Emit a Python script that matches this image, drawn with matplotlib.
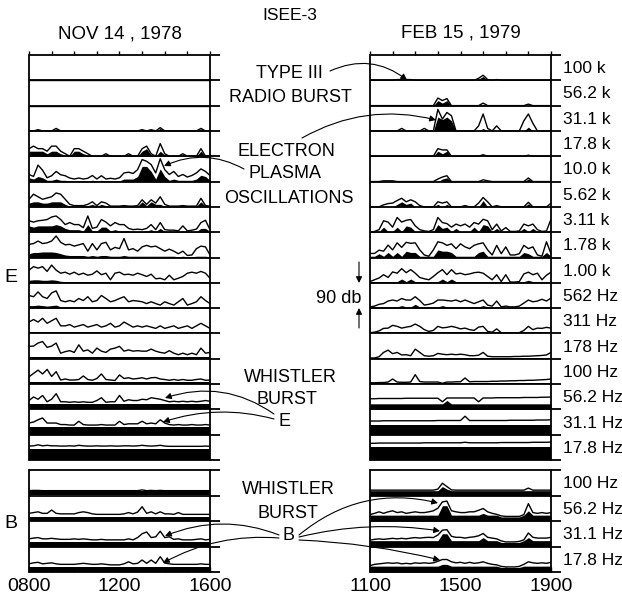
import numpy as np
import matplotlib.pyplot as plt
from matplotlib.patches import FancyArrowPatch

plt.rcParams['font.family'] = ['Liberation Sans', 'DejaVu Sans']

W, H = 622, 606

# channel labels (E antenna and B search coil)
e_labels = ['100 k', '56.2 k', '31.1 k', '17.8 k', '10.0 k', '5.62 k', '3.11 k', '1.78 k',
            '1.00 k', '562 Hz', '311 Hz', '178 Hz', '100 Hz', '56.2 Hz', '31.1 Hz', '17.8 Hz']
b_labels = ['100 Hz', '56.2 Hz', '31.1 Hz', '17.8 Hz']

# samples every 12 minutes (UT hours)
t_nov = np.linspace(8, 16, 41)
t_feb = np.linspace(11, 19, 41)

# intensities in tenths of a channel height (1 channel = 90 db)
# --- NOV 14, 1978: peak line per E channel
nov_e_peak = [
    [0] * 41,
    [0] * 41,
    [0, 0, 0.5, 0, 0, 0, 1, 0, 0, 0, 0, 0, 0, 0, 0, 0, 0, 0, 0, 0, 0, 0, 0, 0, 0, 0.5, 0, 0.5, 0, 1.3,
     0, 0, 0, 0, 0, 0, 0, 0, 1, 0, 0],
    [3, 4, 3, 3, 2, 4, 4, 2, 1, 0, 3, 3, 2, 1, 0, 0, 0, 1, 0, 0, 0, 0, 1, 0, 0, 3, 4, 1, 0, 5,
     1, 0, 0, 0, 1, 0, 0, 0, 3, 0, 0],
    [2.8, 2, 6.5, 4.5, 1.5, 2.3, 4, 2.7, 2.3, 1.4, 1, 1.4, 1, 1.3, 2.4, 1, 2.3, 1, 1.3, 1,
     1.5, 3.4, 3.7, 3.2, 4.7, 8.7, 8, 6.7, 3.4, 9, 4.7, 2.8, 4, 2, 2.8, 1.8, 2.4, 3.4, 5, 4, 2.4],
    [3, 5, 4, 3, 3.5, 4, 5.5, 5, 3, 1, 0.5, 0.5, 0.5, 1, 2, 0.5, 2, 1.5, 0.3, 0.3,
     0.3, 0.5, 0.3, 0.3, 0.5, 2.8, 1, 2.8, 1.5, 4, 1, 0.3, 0.3, 0.3, 0.5, 0.3, 0.3, 0.3, 3.4, 0.5, 0.3],
    [4.5, 4, 4.5, 4.7, 5, 6, 6.4, 5, 3, 3.8, 3, 3, 1.8, 6.4, 1.5, 2, 5, 4, 2.5, 3.8,
     3, 3, 1.5, 1, 1.2, 1, 1.5, 3, 1, 3.8, 1, 0.8, 0.8, 0.5, 2.5, 0.5, 0.8, 1.2, 3.8, 4.7, 1],
    [5.2, 5.5, 6.5, 5.5, 5.8, 6.5, 8.5, 6, 5, 5.2, 4.5, 5, 5.5, 2.5, 5.5, 3, 5.5, 6, 3, 4,
     3.5, 7.5, 3, 3.5, 2.5, 4.2, 4.8, 4.2, 4.5, 3.5, 2.5, 3.3, 2.5, 1.5, 2.5, 0.8, 1, 3.5, 4.5, 4.2, 1],
    [5, 6.4, 5.8, 6.4, 4.5, 7, 5, 3.8, 4.2, 3.4, 4.2, 3.2, 3.8, 3, 3.4, 4.7, 3.2, 3.8, 1.2, 3.8,
     4.2, 3.2, 3.4, 3, 3.8, 3.2, 2.5, 3.4, 1.6, 1.8, 1.2, 3, 1.2, 1.8, 2.5, 3.8, 4.2, 3.8, 4.5, 3.8, 1.8],
    [5, 4.5, 6.4, 4.5, 3.8, 6, 6.8, 3, 2.5, 3, 2.5, 3.8, 3, 4.5, 2.5, 3, 5, 3.8, 2.5, 3,
     3.8, 4.5, 2.5, 3, 2.8, 2.5, 1.8, 2.5, 1.8, 1.2, 2.5, 1.8, 1.2, 2.5, 3.8, 1.2, 1.8, 2.5, 4.5, 3, 1.8],
    [4.5, 5.5, 4.5, 6, 4, 5, 6, 3, 3, 3.5, 2.5, 3, 3.5, 2.5, 3, 3.5, 2.5, 3, 4, 2.5,
     3, 4.5, 3.5, 2.5, 3, 2.5, 3, 2.5, 2, 3, 2, 2.5, 3, 2, 2.5, 3, 2, 3, 4, 3, 2],
    [4.9, 5, 6.2, 6.8, 4.5, 5, 6.2, 2.2, 2.8, 3.2, 2.5, 5.5, 3, 3.5, 2.2, 4.2, 3, 2.5, 3.8, 4.2,
     4.9, 3, 3.5, 3, 3.2, 3, 3, 3.8, 3, 2.5, 2.2, 3.2, 2.2, 1.6, 2.2, 1.6, 2.2, 1.6, 4.2, 2.2, 2.5],
    [2.9, 4.2, 5.5, 4, 5.8, 3, 4.9, 1.6, 2, 1.6, 1.6, 1.8, 3.2, 1.8, 1.5, 2.2, 4, 1.8, 1.6, 1.4,
     3.6, 2.2, 2.5, 2, 2.2, 2.5, 2, 2.5, 2.6, 2, 1.8, 1.5, 1.8, 1.5, 1.8, 1.5, 1.5, 1.8, 2, 1.5, 1.6],
    [3.5, 4.9, 4, 5.5, 3, 4, 6.2, 3, 3, 2.8, 3, 2.8, 3, 2.8, 2.8, 3.5, 4.6, 2.8, 3, 3,
     5.5, 3.2, 3.8, 3.5, 3.5, 4, 3.8, 4.6, 4.3, 4, 3.5, 3, 3.2, 3, 3.2, 3, 3.2, 3, 3.2, 3.5, 3.2],
    [4.6, 5, 5.9, 6.6, 4.6, 4.6, 4.6, 4, 4, 3.8, 3.8, 5.3, 4, 3.8, 3.8, 3.8, 4, 3.8, 3.8, 3.8,
     5.3, 4, 4.3, 4.3, 4.3, 5.3, 4.3, 4.6, 4.3, 5.9, 4.6, 4, 3.8, 4, 3.8, 3.8, 4, 3.8, 3.8, 4, 3.8],
    [5.5, 5.6, 6, 5.6, 5.8, 5.6, 5.6, 5.5, 5.5, 5.6, 5.5, 5.8, 5.6, 5.5, 5.5, 5.6, 5.5, 5.5, 5.6, 5.5,
     5.5, 5.6, 5.6, 5.5, 5.6, 5.8, 5.6, 5.5, 5.6, 5.8, 5.5, 5.4, 5.4, 5.4, 5.4, 5.4, 5.4, 5.4, 5.4, 5.5, 5.4],
]

# --- NOV 14, 1978: average (black) per E channel
nov_e_avg = [
    [0] * 41,
    [0] * 41,
    [0, 0, 0.5, 0, 0, 0, 0.8, 0, 0, 0, 0, 0, 0, 0, 0, 0, 0, 0, 0, 0, 0, 0, 0, 0, 0, 0.4, 0, 0.4, 0, 1,
     0, 0, 0, 0, 0, 0, 0, 0, 0.8, 0, 0],
    [2, 2, 2, 2, 1, 2, 2, 1, 0.5, 0, 2, 2, 1, 0.5, 0, 0, 0, 0.5, 0, 0, 0, 0, 0.5, 0, 0, 2, 3, 0.5, 0, 2,
     0.5, 0, 0, 0, 0.5, 0, 0, 0, 2, 0, 0],
    [1.5, 1, 2, 1.5, 0.5, 0.5, 1, 0.5, 0.5, 0.3, 0.3, 0.3, 0.3, 0.3, 0.5, 0.3, 0.5, 0.3, 0.3, 0.3,
     0.3, 1, 1, 1, 2, 6, 6, 4, 1, 5, 2, 0.5, 1, 0.5, 0.5, 0.5, 0.5, 1, 2.5, 2, 0.5],
    [1.5, 2, 2, 1.5, 1.5, 2, 2, 2, 1, 0.3, 0.3, 0.3, 0.3, 0.5, 1, 0.3, 1, 0.5, 0.3, 0.3,
     0.3, 0.3, 0.3, 0.3, 0.3, 2, 0.5, 2, 1, 1, 0.3, 0.3, 0.3, 0.3, 0.3, 0.3, 0.3, 0.3, 2, 0.3, 0.3],
    [2.5, 2, 2.5, 2.5, 2.5, 2.5, 3, 2.5, 1.5, 1, 1, 1, 0.5, 3, 0.5, 0.5, 2, 2, 0.5, 1,
     0.5, 0.5, 0.5, 0.3, 0.3, 0.3, 0.5, 1, 0.3, 1.5, 0.3, 0.3, 0.3, 0.3, 0.5, 0.3, 0.3, 0.3, 1.5, 1.5, 0.3],
    [1.5, 2, 2, 2.2, 2.2, 2.2, 2, 1.5, 1, 0.8, 0.8, 0.8, 0.8, 0.5, 0.8, 0.5, 0.8, 0.8, 0.5, 0.5,
     0.5, 0.8, 0.5, 0.5, 0.5, 0.5, 0.5, 0.5, 0.5, 0.5, 0.5, 0.5, 0.5, 0.3, 0.5, 0.3, 0.3, 0.5, 0.5, 0.5, 0.3],
    [1, 1.2, 1.2, 1, 1, 1.2, 1, 0.6, 0.5, 0.5, 0.5, 0.5, 0.5, 0.5, 0.5, 0.5, 0.5, 0.5, 0.5, 0.5,
     0.5, 0.5, 0.5, 0.5, 0.5, 0.5, 0.4, 0.5, 0.4, 0.4, 0.4, 0.4, 0.4, 0.4, 0.4, 0.5, 0.5, 0.5, 0.5, 0.5, 0.4],
    [1, 1, 1.2, 1, 0.8, 1, 1.2, 0.5, 0.5, 0.5, 0.5, 0.5, 0.5, 0.5, 0.5, 0.5, 0.5, 0.5, 0.5, 0.5,
     0.5, 0.5, 0.5, 0.5, 0.5, 0.5, 0.4, 0.4, 0.4, 0.4, 0.4, 0.4, 0.4, 0.4, 0.4, 0.4, 0.4, 0.4, 0.5, 0.4, 0.4],
    [0.5] * 41,
    [0.5] * 41,
    [1.0] * 41,
    [2.0] * 41,
    [3.0] * 41,
    [4.2] * 41,
]

nov_b_peak = [
    [1.9, 2, 2, 1.9, 1.9, 1.9, 1.9, 1.9, 1.9, 1.9, 1.9, 1.9, 1.9, 1.9, 1.9, 1.9, 1.9, 1.9, 1.9, 1.9,
     1.9, 1.9, 1.9, 1.9, 1.9, 2.2, 1.9, 2, 1.9, 2, 1.9, 1.9, 1.9, 1.9, 1.9, 1.9, 1.9, 1.9, 1.9, 1.9, 1.9],
    [3, 3.3, 3.6, 3, 3, 4.3, 3, 2.8, 2.8, 2.8, 2.8, 3.3, 3.6, 3.3, 2.8, 2.6, 2.6, 2.6, 2.6, 2.6,
     2.6, 2.8, 3.3, 2.8, 3.5, 5.6, 3, 3.6, 2.8, 3.6, 2.8, 2.8, 2.6, 3.3, 2.6, 2.6, 2.6, 2.6, 2.6, 2.6, 2.6],
    [3, 3.3, 3.5, 3, 3, 3.2, 3, 2.8, 2.8, 2.8, 3, 2.8, 3, 2.8, 2.6, 2.6, 2.8, 2.6, 2.6, 2.6,
     2.6, 2.6, 3, 2.6, 3.5, 5, 5.7, 3.5, 3.8, 6, 3.5, 3.8, 2.8, 3, 2.6, 2.6, 2.6, 2.8, 3, 2.6, 2.8],
    [3.2, 3.6, 3.8, 3.2, 3.4, 3.6, 3.2, 3, 3, 3, 3, 3.2, 3.4, 3.2, 3, 3, 3.2, 3, 2.8, 2.8,
     2.8, 3.2, 4, 3.2, 3.4, 4.7, 3.4, 4.7, 3.4, 6, 3.5, 3.2, 3, 3, 3, 3, 3, 3, 3.2, 3, 3],
]
nov_b_avg = [[1.6] * 41, [1.7] * 41, [1.8] * 41, [2.0] * 41]

# --- FEB 15, 1979
feb_e_peak = [
    [0, 0, 0, 0, 0, 0, 0.3, 0.3, 0.3, 0.3, 0, 0, 0, 0, 0, 0, 0, 0, 0, 0,
     0, 0, 0, 0, 0.8, 2, 0.3, 0, 0.3, 0, 0, 0, 0, 0, 0, 0, 0, 0, 0, 0, 0],
    [0, 0, 0, 0, 0, 0, 0, 0, 0, 0, 0, 0, 0, 0, 0, 3, 2, 2.8, 0, 0,
     0, 0, 0, 0, 0, 1, 0, 0, 0, 0, 0, 0, 0, 0, 0, 0.6, 0, 0, 0, 0, 0],
    [0, 0, 0, 0, 0, 0, 0, 1, 0, 0, 0, 0, 1, 0, 0, 8.5, 4.7, 7.3, 6, 0,
     0, 0, 0, 0, 2, 6.7, 1, 0, 2, 0, 0, 0, 0, 0, 4, 6.7, 3, 0, 0, 0, 0],
    [0, 0, 0, 0, 0, 0, 0, 0, 0, 0, 0, 0, 0, 0, 0, 3, 2.5, 2.5, 0, 0,
     0, 0, 0, 0, 0, 0.6, 0, 0, 0, 0, 0, 0, 0, 0, 0, 0.4, 0, 0, 0, 0, 0],
    [0, 0, 0, 0.3, 0.3, 0.3, 0, 0, 0, 0, 0, 0, 0, 0, 0, 1, 1.8, 2.3, 0, 0,
     0, 0, 0, 0, 0, 0.7, 0.3, 0, 0, 0, 0, 0, 0, 0, 0, 1.4, 0, 0, 0, 0, 0],
    [0, 0, 0, 0.8, 1.3, 1.5, 2.5, 3.4, 2, 2.8, 2, 0.5, 0, 0, 0, 2, 1.5, 2, 0, 0,
     0, 0.5, 0, 0, 1.5, 3.7, 2, 0, 0.5, 0, 0, 0, 0, 0, 0, 1.8, 0, 0, 0, 0, 1.4],
    [0, 0.3, 1, 4.5, 4, 2, 5.8, 4, 4.7, 5, 2.5, 1, 0.5, 0.3, 1, 5.8, 3.8, 3.4, 2, 3.2,
     2.5, 3.2, 2, 3.8, 3.2, 5.1, 4.5, 1, 3.2, 0.5, 1.8, 0.3, 0.3, 0.5, 3.2, 2.5, 3.2, 1, 0.3, 0.5, 5.1],
    [1.6, 1.6, 2.9, 2.5, 4.9, 3, 5.8, 4, 6, 5.6, 5.8, 3, 1, 0.5, 3, 6.2, 5.8, 4.8, 5.4, 3.5,
     5.4, 4.2, 3.5, 4.8, 5.4, 5.8, 3, 1, 4.8, 1.5, 4.2, 1, 1, 1.5, 4.8, 3.5, 4.2, 1, 0.5, 6.2, 1.5],
    [0.5, 1.2, 1.9, 3.2, 2.1, 4.3, 3.8, 5.6, 4, 5.2, 3.8, 2.1, 1.6, 1.2, 2.5, 4, 5.2, 3.2, 5.2, 3.5,
     3.8, 3.2, 3.5, 4, 4.2, 3.8, 2.5, 1.2, 3.2, 0.5, 3.2, 0.3, 0.3, 0.5, 3.5, 4.2, 3.2, 3.8, 1.2, 3, 4.2],
    [0.5, 0.8, 1.5, 1.8, 2.8, 3.2, 2.8, 3.8, 3.2, 3.2, 4.5, 3, 1.2, 1.5, 2, 3.2, 3.2, 3, 2.8, 3.2,
     2.5, 3.2, 2.5, 1.8, 2.5, 3.2, 1.2, 0.8, 2.8, 0.5, 0.8, 0.5, 0.5, 0.8, 2, 3.2, 2.5, 2.8, 3.5, 2.8, 4],
    [0.3, 0.5, 1, 2, 2.1, 3.2, 2.8, 2.1, 2.5, 2.8, 3.7, 2.8, 1.5, 0.8, 1.2, 2.8, 2.2, 2.4, 2.8, 2.4,
     1.8, 2.1, 1.5, 1.2, 2.5, 2.8, 0.8, 0.5, 1.8, 0.3, 0.3, 0.3, 0.3, 0.3, 1.2, 2.8, 1.5, 2.1, 2, 2.4, 2.1],
    [0.3, 0.3, 0.8, 2.5, 3.4, 2, 2.5, 1.5, 1.6, 1.2, 3.8, 2.5, 1.2, 1, 1.2, 2.1, 1.8, 1.6, 1.8, 1.6,
     1.8, 1.6, 1.2, 1.2, 1.4, 2.5, 1, 0.8, 0.8, 0.8, 0.8, 0.8, 0.9, 0.9, 1, 1, 1.1, 1.2, 1.3, 1.5, 2.5],
    [0.5, 0.5, 0.6, 0.6, 0.8, 2, 0.8, 0.7, 0.7, 0.8, 3.7, 1, 0.8, 0.8, 0.8, 0.8, 0.3, 0.8, 0.8, 0.9,
     0.9, 2.4, 0.9, 1, 1, 1, 1, 1.1, 1.1, 1.2, 1.2, 1.3, 1.3, 1.4, 1.4, 1.5, 1.5, 1.6, 1.7, 1.8, 2],
    [4.2, 4.2, 4.3, 4.3, 4.3, 4.3, 4.3, 4.3, 4.4, 4.4, 4.4, 4.4, 4.4, 4.4, 4.4, 4.4, 3, 4.5, 4.5, 4.5,
     4.5, 4.5, 4.5, 4.5, 3, 4.5, 4.5, 4.5, 4.6, 4.6, 4.6, 4.6, 4.6, 4.6, 4.7, 4.7, 4.7, 4.7, 4.8, 4.8, 4.9],
    [5.4, 5.4, 5.4, 5.5, 5.5, 5.5, 5.5, 5.5, 5.5, 5.5, 5.5, 5.5, 5.5, 5.5, 5.5, 5.6, 5.6, 5.6, 5.6, 5.6,
     5.6, 7.3, 5.6, 5.6, 5.6, 5.6, 5.6, 5.6, 5.6, 5.6, 5.6, 5.7, 5.7, 5.7, 5.7, 5.7, 5.7, 5.8, 5.8, 5.8, 5.9],
    [6.6, 6.6, 6.7, 6.7, 6.7, 6.7, 6.7, 6.7, 6.7, 6.7, 6.7, 6.7, 6.8, 6.8, 6.8, 6.8, 6.8, 6.8, 6.8, 6.8,
     6.8, 7, 6.8, 6.8, 6.8, 6.8, 6.8, 6.8, 6.8, 6.9, 6.9, 6.9, 6.9, 6.9, 6.9, 6.9, 7, 7, 7, 7, 7.1],
]

feb_e_avg = [
    [0, 0, 0, 0, 0, 0, 0.2, 0.2, 0.2, 0.2, 0, 0, 0, 0, 0, 0, 0, 0, 0, 0,
     0, 0, 0, 0, 0.5, 1.5, 0, 0, 0, 0, 0, 0, 0, 0, 0, 0, 0, 0, 0, 0, 0],
    [0, 0, 0, 0, 0, 0, 0, 0, 0, 0, 0, 0, 0, 0, 0, 2, 1, 2, 0, 0,
     0, 0, 0, 0, 0, 0.5, 0, 0, 0, 0, 0, 0, 0, 0, 0, 0, 0, 0, 0, 0, 0],
    [0, 0, 0, 0, 0, 0, 0, 0.5, 0, 0, 0, 0, 0.5, 0, 0, 5.5, 4.5, 5.5, 4, 0,
     0, 0, 0, 0, 0, 1, 0, 0, 0, 0, 0, 0, 0, 0, 0, 1.5, 0, 0, 0, 0, 0],
    [0, 0, 0, 0, 0, 0, 0, 0, 0, 0, 0, 0, 0, 0, 0, 2, 1, 2, 0, 0,
     0, 0, 0, 0, 0, 0, 0, 0, 0, 0, 0, 0, 0, 0, 0, 0, 0, 0, 0, 0, 0],
    [0, 0, 0, 0, 0, 0, 0, 0, 0, 0, 0, 0, 0, 0, 0, 0, 1, 1.5, 0, 0,
     0, 0, 0, 0, 0, 0, 0, 0, 0, 0, 0, 0, 0, 0, 0, 1, 0, 0, 0, 0, 0],
    [0, 0, 0, 0, 0, 0, 1, 2, 1, 1.5, 0, 0, 0, 0, 0, 1, 0, 1, 0, 0,
     0, 0, 0, 0, 0, 2.5, 0, 0, 0, 0, 0, 0, 0, 0, 0, 1.2, 0, 0, 0, 0, 0],
    [0.3, 0.3, 0.3, 2, 0.3, 0.3, 2, 0.3, 2.5, 2, 0.3, 0.3, 0.3, 0.3, 0.3, 3, 1.5, 2, 0.3, 1.5,
     0.3, 0.3, 0.3, 2, 0.3, 3, 2.5, 0.3, 1.5, 0.3, 0.3, 0.3, 0.3, 0.3, 1.5, 0.3, 1.5, 0.3, 0.3, 0.3, 1],
    [0.5, 0.5, 1.5, 0.5, 2, 0.5, 2, 0.5, 2.5, 2, 2, 0.5, 0.5, 0.5, 0.5, 3, 2.5, 2.5, 2, 0.5,
     0.5, 0.5, 0.5, 0.5, 2, 2.5, 0.5, 0.5, 0.5, 0.5, 0.5, 0.5, 0.5, 0.5, 2, 1.5, 0.5, 0.5, 0.5, 2, 0.5],
    [0.5, 0.5, 0.5, 0.5, 0.5, 0.5, 0.5, 1.5, 0.5, 1.5, 0.5, 0.5, 0.5, 0.5, 0.5, 0.5, 1.5, 0.5, 1.5, 0.5,
     0.5, 0.5, 0.5, 0.5, 0.5, 0.5, 0.5, 0.5, 0.5, 0.3, 0.5, 0.3, 0.3, 0.3, 0.5, 1, 0.5, 0.5, 0.5, 0.5, 0.5],
    [0.5, 0.5, 0.5, 0.5, 0.5, 0.5, 0.5, 1, 0.5, 0.5, 1.5, 0.5, 0.5, 0.5, 0.5, 0.5, 1, 0.5, 0.5, 0.5,
     0.5, 0.5, 0.5, 0.5, 0.5, 1, 0.5, 0.5, 0.5, 0.3, 0.3, 0.3, 0.3, 0.3, 0.5, 0.5, 0.5, 0.5, 0.5, 0.5, 0.5],
    [0.4] * 41,
    [0.4] * 41,
    [0.4] * 41,
    [2.2, 2.2, 2.2, 2.2, 2.2, 2.2, 2.2, 2.2, 2.2, 2.2, 2.2, 2.2, 2.2, 2.2, 2.2, 2.2, 2.2, 3.5, 2.2, 2.2,
     2.2, 2.2, 2.2, 2.2, 2.2, 2.2, 2.2, 2.2, 2.2, 2.2, 2.2, 2.2, 2.2, 2.2, 2.2, 2.2, 2.2, 2.2, 2.2, 2.2, 2.2],
    [3.8] * 41,
    [5.0] * 41,
]

feb_b_peak = [
    [2.1, 2.1, 2.1, 2.1, 2.1, 2.1, 2.1, 2.1, 2.1, 2.1, 2.1, 2.1, 2.1, 2.1, 2.1, 2.5, 4.8, 3.5, 2.2, 2.1,
     2.1, 2.1, 2.1, 2.1, 2.1, 2.1, 2.1, 2.1, 2.1, 2.1, 2.1, 2.1, 2.1, 2.1, 2.1, 2.9, 2.1, 2.1, 2.1, 2.1, 2.1],
    [2.5, 3, 3.6, 3, 3.6, 4, 3.3, 3.6, 3, 3.3, 3.6, 3.3, 3.3, 3.6, 4, 5, 7.5, 7.8, 4, 3.6,
     3.3, 3.3, 3.6, 3.6, 4.2, 4.9, 3.6, 3, 2.6, 2, 1.8, 1.8, 1.8, 1.8, 2.5, 6.8, 3.3, 3, 3.3, 3, 3.3],
    [2.5, 2.8, 3, 2.8, 3, 3.2, 3, 3.2, 3, 3.3, 3.5, 3.3, 3.5, 3.6, 3.5, 4.5, 6.4, 6.6, 4, 3.6,
     3.6, 3.3, 3.6, 3.8, 4.2, 5.1, 3.6, 3.3, 3, 2.2, 1.8, 1.8, 1.8, 2, 2.6, 5.3, 3.6, 3.3, 3.3, 3.3, 3.6],
    [2.5, 3, 3.2, 3.4, 3.6, 3.4, 3.6, 3.2, 3.4, 3.2, 3.6, 3.4, 3.6, 3.4, 3.6, 4.2, 4.9, 4.9, 4, 3.6,
     3.8, 3.4, 3.8, 3.4, 3.6, 4, 3.4, 3, 2.8, 2.2, 2, 2, 2, 2.2, 3, 4, 3.6, 3.4, 3.6, 3.4, 3.8],
]
feb_b_avg = [
    [1.9, 1.9, 1.9, 1.9, 1.9, 1.9, 1.9, 1.9, 1.9, 1.9, 1.9, 1.9, 1.9, 1.9, 1.9, 1.9, 3.5, 2.5, 1.9, 1.9,
     1.9, 1.9, 1.9, 1.9, 1.9, 1.9, 1.9, 1.9, 1.9, 1.9, 1.9, 1.9, 1.9, 1.9, 1.9, 1.9, 1.9, 1.9, 1.9, 1.9, 1.9],
    [2.3, 2.3, 2.3, 2.3, 2.3, 2.3, 2.3, 2.3, 2.3, 2.3, 2.3, 2.3, 2.3, 2.3, 2.3, 2.3, 6, 6, 2.3, 2.3,
     2.3, 2.3, 2.3, 2.3, 2.3, 3, 2.3, 2.3, 2.3, 1.6, 1.6, 1.6, 1.6, 1.6, 2.3, 4, 2.3, 2.3, 2.3, 2.3, 2.3],
    [2.3, 2.3, 2.3, 2.3, 2.3, 2.3, 2.3, 2.3, 2.3, 2.3, 2.3, 2.3, 2.3, 2.3, 2.3, 2.3, 5, 5, 2.3, 2.3,
     2.3, 2.3, 2.3, 2.3, 2.3, 3.5, 2.3, 2.3, 2.3, 1.6, 1.6, 1.6, 1.6, 1.6, 2.3, 3.5, 2.3, 2.3, 2.3, 2.3, 2.3],
    [2.3, 2.3, 2.3, 2.3, 2.3, 2.3, 2.3, 2.3, 2.3, 2.3, 2.3, 2.3, 2.3, 2.3, 2.3, 2.3, 3, 3, 2.3, 2.3,
     2.3, 2.3, 2.3, 2.3, 2.3, 2.3, 2.3, 2.3, 2.3, 1.8, 1.8, 1.8, 1.8, 1.8, 2.3, 2.3, 2.3, 2.3, 2.3, 2.3, 2.3],
]

fig = plt.figure(figsize=(W / 100, H / 100), dpi=100)


def box(x0, y0, x1, y1):
    # pixel box (top-left origin) -> figure fraction rect
    return [x0 / W, 1 - y1 / H, (x1 - x0) / W, (y1 - y0) / H]


def draw_block(ax, t, peaks, avgs, is_b, ticklabels=None):
    n = len(peaks)
    t0, t1 = t[0], t[-1]
    ext = (t1 - t0) * 10 / 181
    for i in range(n):
        base = -(i + 1)
        ax.fill_between(t, base, base + np.array(avgs[i]) / 10, color='k', lw=0)
        ax.plot(t, base + np.array(peaks[i]) / 10, color='k', lw=1.0)
    for i in range(n + 1):
        ax.plot([t0, t1 + ext], [-i, -i], color='k', lw=1.3, clip_on=False,
                solid_capstyle='butt')
    ax.set_xlim(t0, t1)
    ax.set_ylim(-n, 0)
    ax.set_yticks([])
    ax.set_xticks(np.arange(t0, t1 + 0.5, 1))
    for s in ['top', 'bottom']:
        ax.spines[s].set_visible(False)
    for s in ['left', 'right']:
        ax.spines[s].set_linewidth(1.3)
    if is_b:
        ax.tick_params(axis='x', direction='in', length=3.5, width=1, labelsize=14, pad=4)
        ax.set_xticklabels(ticklabels)
    else:
        ax.xaxis.tick_top()
        ax.tick_params(axis='x', direction='out', length=3, width=1,
                       labeltop=False, labelbottom=False)


ax1 = fig.add_axes(box(29, 55, 210, 460))
draw_block(ax1, t_nov, nov_e_peak, nov_e_avg, False)
ax2 = fig.add_axes(box(29, 470, 210, 572))
draw_block(ax2, t_nov, nov_b_peak, nov_b_avg, True,
           ['0800', '', '', '', '1200', '', '', '', '1600'])
ax3 = fig.add_axes(box(370, 55, 551, 460))
draw_block(ax3, t_feb, feb_e_peak, feb_e_avg, False)
ax4 = fig.add_axes(box(370, 470, 551, 572))
draw_block(ax4, t_feb, feb_b_peak, feb_b_avg, True,
           ['1100', '', '', '', '1500', '', '', '', '1900'])


def label(x, y, s, size=13, ha='center'):
    fig.text(x / W, 1 - y / H, s, ha=ha, va='center', fontsize=size)


def arrow(x1, y1, x2, y2, rad=0.0):
    fig.add_artist(FancyArrowPatch((x1 / W, 1 - y1 / H), (x2 / W, 1 - y2 / H),
                                   transform=fig.transFigure,
                                   connectionstyle=f'arc3,rad={rad}',
                                   arrowstyle='-|>', mutation_scale=9, lw=0.8,
                                   color='k', shrinkA=0, shrinkB=0))


label(290, 16, 'ISEE-3', 12.5)
label(120, 34, 'NOV 14 , 1978', 13.5)
label(461, 33, 'FEB 15 , 1979', 13.5)

for i, s in enumerate(e_labels):
    label(563, 55 + (i + 0.5) * 405 / 16 + 1, s, 12.5, ha='left')
for i, s in enumerate(b_labels):
    label(563, 470 + (i + 0.5) * 102 / 4 + 1, s, 12.5, ha='left')

label(11, 277, 'E', 14)
label(11, 523, 'B', 14)

label(289, 73, 'TYPE III')
label(290, 98, 'RADIO BURST')
label(286, 151, 'ELECTRON')
label(285, 173, 'PLASMA')
label(289, 199, 'OSCILLATIONS')
label(339, 298, '90 db')
label(290, 378, 'WHISTLER')
label(287, 400, 'BURST')
label(285, 421, 'E')
label(288, 490, 'WHISTLER')
label(288, 513, 'BURST')
label(288, 535, 'B')

# annotation arrows
arrow(330, 71, 407, 80, -0.3)
arrow(302, 138, 436, 120, -0.2)
arrow(244, 169, 164, 166, 0.25)
arrow(274, 414, 165, 398, 0.25)
arrow(274, 419, 163, 422, 0.15)
arrow(279, 535, 165, 536, 0.2)
arrow(279, 538, 163, 563, 0.15)
arrow(299, 535, 438, 503, -0.25)
arrow(299, 537, 440, 531, -0.1)
arrow(299, 540, 440, 560, -0.05)
arrow(359, 262, 359, 283)
arrow(359, 328, 359, 308)

fig.savefig('out.png', dpi=100)
